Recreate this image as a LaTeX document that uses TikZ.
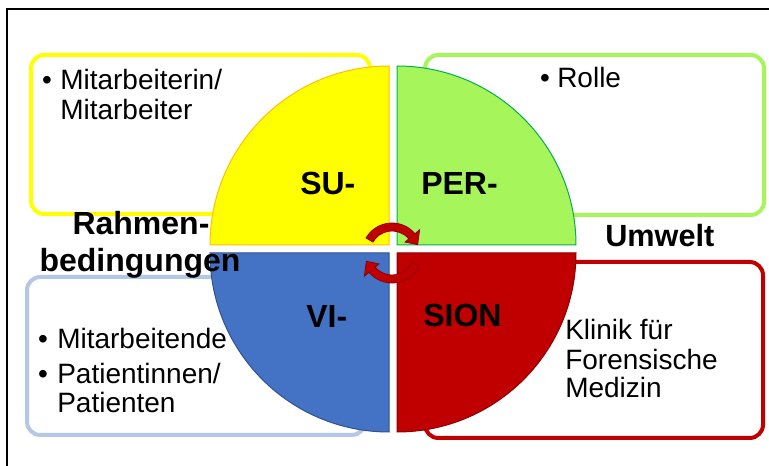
\documentclass[tikz,border=0pt]{standalone}
\usepackage{fontspec}
\setmainfont{Liberation Sans}
\definecolor{gelb}{RGB}{255,255,0}
\definecolor{gelbrand}{RGB}{255,192,0}
\definecolor{gruen}{RGB}{166,245,90}
\definecolor{gruenrand}{RGB}{0,176,80}
\definecolor{blau}{RGB}{68,114,196}
\definecolor{blaurand}{RGB}{47,82,143}
\definecolor{hellblau}{RGB}{180,199,231}
\definecolor{rot}{RGB}{192,0,0}
\definecolor{rotrand}{RGB}{140,0,0}
\tikzset{
  feld/.style={line width=3pt,rounded corners=10pt},
  viertel/.style={line width=0.75pt},
  txt/.style={font=\fontsize{21}{25}\selectfont,anchor=base west,inner sep=0pt},
  lbl/.style={font=\fontsize{24}{28}\selectfont\bfseries,anchor=base west,inner sep=0pt},
  pfeil/.style={fill=rot,draw=rotrand,line width=0.6pt}
}
\begin{document}
\begin{tikzpicture}[x=0.75pt,y=0.75pt]
\useasboundingbox (0,0) rectangle (769,-466);
\fill[white] (0,0) rectangle (769,-466);
\draw[line width=1.5pt] (6.5,-466) -- (6.5,-9) -- (769,-9);
\draw[feld,gelb] (31,-55) rectangle (370,-214);
\draw[feld,gruen] (425,-55) rectangle (764,-215);
\draw[feld,hellblau] (27,-277) rectangle (365,-435);
\draw[feld,rot] (425,-262) rectangle (763,-438);
\filldraw[viertel,fill=gelb,draw=gelbrand] (389,-245) -- ++(-179,0) arc (180:90:179) -- cycle;
\filldraw[viertel,fill=gruen,draw=gruenrand] (397,-245) -- ++(0,179) arc (90:0:179) -- cycle;
\filldraw[viertel,fill=blau,draw=blaurand] (389,-253) -- ++(-179,0) arc (180:270:179) -- cycle;
\filldraw[viertel,fill=rot,draw=rotrand] (397,-253) -- ++(179,0) arc (0:-90:179) -- cycle;
\begin{scope}[shift={(392,-253)}]
\draw[pfeil] (150:30) arc (150:40:30) -- (40:36) -- (18:27) -- (40:17) -- (40:22) arc (40:150:22) -- cycle;
\draw[pfeil] (-25:30) arc (-25:-140:30) -- (-140:36) -- (-162:27) -- (-140:17) -- (-140:22) arc (-140:-25:22) -- cycle;
\end{scope}
\node[lbl] (su) at (300,-195) {SU-};
\node[lbl] (per) at (421,-195) {PER-};
\node[lbl] (vi) at (306,-328) {VI-};
\node[lbl] (sion) at (423,-327) {SION};
\node[lbl,anchor=base] (rahmen) at (141,-235) {Rahmen-};
\node[lbl,anchor=base] (bedingungen) at (140,-272) {bedingungen};
\node[lbl,font=\fontsize{23}{27}\selectfont\bfseries] (umwelt) at (605,-247) {Umwelt};
\node[txt,anchor=base] (ybullet) at (47,-90) {\textbullet};
\node[txt] (y1) at (60,-90) {Mitarbeiterin/};
\node[txt] (y2) at (60,-120) {Mitarbeiter};
\node[txt,anchor=base] (gbullet) at (545,-88) {\textbullet};
\node[txt] (g1) at (557,-88) {Rolle};
\node[txt,anchor=base] (bbullet1) at (43,-349) {\textbullet};
\node[txt] (b1) at (57,-349) {Mitarbeitende};
\node[txt,anchor=base] (bbullet2) at (43,-384) {\textbullet};
\node[txt] (b2) at (57,-384) {Patientinnen/};
\node[txt] (b3) at (57,-413) {Patienten};
\node[txt] (r1) at (565,-340) {Klinik für};
\node[txt] (r2) at (565,-370) {Forensische};
\node[txt] (r3) at (565,-398) {Medizin};
\end{tikzpicture}
\end{document}
